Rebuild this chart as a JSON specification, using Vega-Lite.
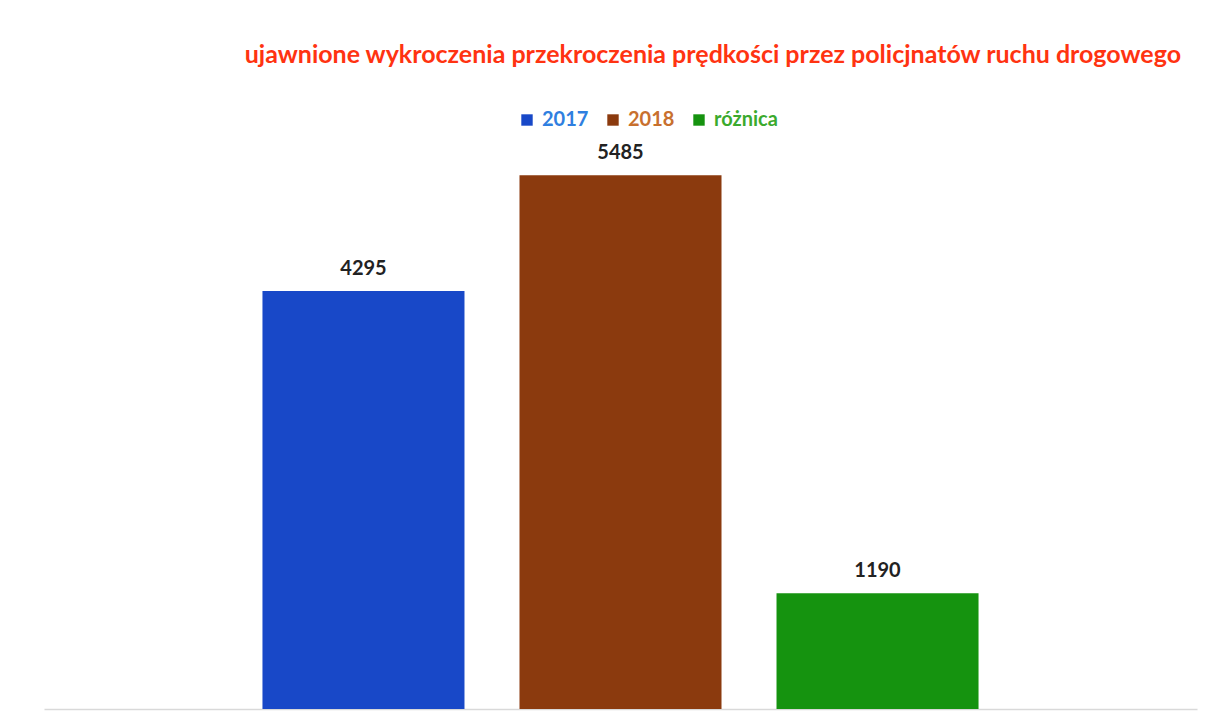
{
  "$schema": "https://vega.github.io/schema/vega-lite/v6.json",
  "autosize": "none",
  "width": 1153,
  "height": 584,
  "padding": {"left": 44, "top": 125, "right": 14, "bottom": 19},
  "background": "white",
  "config": {"view": {"stroke": null}, "font": "Lato"},
  "title": {
    "text": "ujawnione wykroczenia przekroczenia prędkości przez policjnatów ruchu drogowego",
    "font": "Lato",
    "fontSize": 25,
    "fontWeight": "bold",
    "color": "#FF3311",
    "anchor": "end",
    "offset": 42,
    "dx": -16
  },
  "data": {
    "values": [
      {"kategoria": "2017", "wartosc": 4295},
      {"kategoria": "2018", "wartosc": 5485},
      {"kategoria": "różnica", "wartosc": 1190}
    ]
  },
  "encoding": {
    "x": {
      "field": "kategoria",
      "type": "nominal",
      "sort": null,
      "scale": {"paddingInner": 0.214, "paddingOuter": 0.85},
      "axis": {"title": null, "labels": false, "ticks": false, "domain": true, "domainColor": "#d9d9d9", "domainWidth": 1.5}
    },
    "y": {
      "field": "wartosc",
      "type": "quantitative",
      "scale": {"domain": [0, 6000]},
      "axis": null
    }
  },
  "layer": [
    {
      "mark": {"type": "bar"},
      "encoding": {
        "color": {
          "field": "kategoria",
          "type": "nominal",
          "sort": null,
          "scale": {"domain": ["2017", "2018", "różnica"], "range": ["#1848C8", "#8B3A0E", "#15930F"]},
          "legend": {
            "title": null,
            "orient": "none",
            "direction": "horizontal",
            "legendX": 473,
            "legendY": -15,
            "symbolType": "square",
            "symbolSize": 130,
            "symbolStrokeWidth": 0,
            "labelFont": "Lato",
            "labelFontSize": 20,
            "labelFontWeight": "bold",
            "labelColor": {"expr": "datum.label == '2017' ? '#2F7FE0' : datum.label == '2018' ? '#C8702E' : '#3BAA2E'"},
            "columnPadding": 14,
            "labelOffset": 5
          }
        }
      }
    },
    {
      "mark": {"type": "text", "baseline": "bottom", "dy": -12, "font": "Lato", "fontSize": 20, "fontWeight": "bold", "color": "#222222"},
      "encoding": {"text": {"field": "wartosc", "type": "quantitative", "format": "d"}}
    }
  ]
}
